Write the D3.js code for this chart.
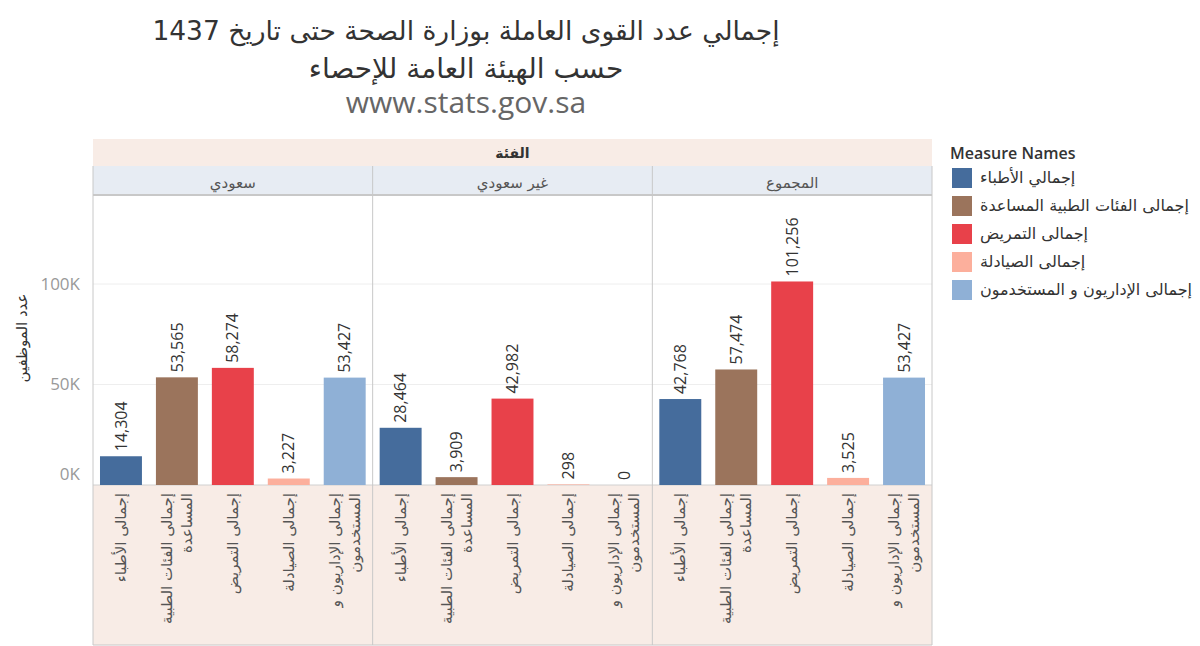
<!DOCTYPE html>
<html>
<head>
<meta charset="utf-8">
<script src="https://cdn.jsdelivr.net/npm/d3@7"></script>
<style>
  body { margin: 0; background: #fff; }
  svg text { font-family: "DejaVu Sans", "Noto Sans", sans-serif; }
</style>
</head>
<body>
<div id="main"></div>
<script>
// data
var titleLines = ["إجمالي عدد القوى العاملة بوزارة الصحة حتى تاريخ 1437", "حسب الهيئة العامة للإحصاء", "www.stats.gov.sa"];
var groups = ["سعودي", "غير سعودي", "المجموع"];
var measures = ["إجمالي الأطباء", "إجمالى الفئات الطبية المساعدة", "إجمالى التمريض", "إجمالى الصيادلة", "إجمالى الإداريون و المستخدمون"];
// axis labels wrap onto two lines
var measureLines = [["إجمالى الأطباء"], ["إجمالى الفئات الطبية", "المساعدة"], ["إجمالى التمريض"], ["إجمالى الصيادلة"], ["إجمالى الإداريون و", "المستخدمون"]];
var saudi = [14304, 53565, 58274, 3227, 53427];
var nonSaudi = [28464, 3909, 42982, 298, 0];
var total = [42768, 57474, 101256, 3525, 53427];
var yTicks = [0, 50000, 100000];
var colors = ["#456c9c", "#9b745c", "#e8414a", "#fcaf9c", "#8fb0d6"];

var values = [saudi, nonSaudi, total];

// dimensions
var svg_width = 1200, svg_height = 646;
var left = 93, right = 932;
var bandTop = 139, headTop = 166, plotTop = 196, plotBottom = 485, bottom = 645;

var svg = d3.select("#main").append("svg")
    .attr("width", svg_width)
    .attr("height", svg_height);

// title
var titleSize = ["26.5px", "28px", "30px"];
svg.selectAll(".title")
    .data(titleLines)
    .enter().append("text")
    .attr("class", "title")
    .attr("x", 466)
    .attr("y", function(d, i) { return [40, 78, 113][i]; })
    .attr("text-anchor", "middle")
    .style("font-size", function(d, i) { return titleSize[i]; })
    .style("font-family", function(d, i) { return i == 2 ? "'Open Sans', sans-serif" : null; })
    .attr("fill", function(d, i) { return i == 2 ? "#666" : "#333"; })
    .text(function(d) { return d; });

/** scales **/
var panelScale = d3.scaleBand().domain(groups).range([left, right]);
var xScale = d3.scaleBand().domain(measures).range([0, panelScale.bandwidth()]).paddingInner(0.25).paddingOuter(0.125);
var yScale = d3.scaleLinear().domain([0, 100000]).range([plotBottom, 284]);
var color = d3.scaleOrdinal().domain(measures).range(colors);

// background bands
svg.append("rect").attr("x", left).attr("y", bandTop).attr("width", right - left).attr("height", headTop - bandTop).attr("fill", "#f8ece6");
svg.append("rect").attr("x", left).attr("y", headTop).attr("width", right - left).attr("height", plotTop - headTop).attr("fill", "#e7ecf3");
svg.append("rect").attr("x", left).attr("y", plotBottom).attr("width", right - left).attr("height", bottom - plotBottom).attr("fill", "#f8ece6");
svg.append("line").attr("x1", left).attr("x2", right).attr("y1", plotTop - 1).attr("y2", plotTop - 1).attr("stroke", "#c8c8c8").attr("stroke-width", 2);
svg.append("line").attr("x1", left).attr("x2", right).attr("y1", plotBottom).attr("y2", plotBottom).attr("stroke", "#d0d0d0");

svg.append("text")
    .attr("x", (left + right) / 2).attr("y", 158)
    .attr("text-anchor", "middle")
    .attr("fill", "#333")
    .style("font-size", "14px").style("font-weight", "bold")
    .text("الفئة");

// gridlines
svg.selectAll(".grid")
    .data(yTicks.slice(1))
    .enter().append("line")
    .attr("class", "grid")
    .attr("x1", left).attr("x2", right)
    .attr("y1", function(d) { return yScale(d); })
    .attr("y2", function(d) { return yScale(d); })
    .attr("stroke", "#eeeeee");

// y axis
var yAxis = svg.append("g")
    .attr("transform", "translate(" + (left - 10) + ",0)")
    .call(d3.axisLeft(yScale).tickValues(yTicks).tickSize(0).tickFormat(function(d) { return (d / 1000) + "K"; }));
yAxis.select(".domain").remove();
yAxis.selectAll("text")
    .attr("fill", "#999")
    .style("font-size", "17px")
    .style("font-family", "'Open Sans', sans-serif")
    .attr("dy", function(d) { return d == 0 ? "-0.3em" : "0.32em"; });

svg.append("text")
    .attr("transform", "translate(27,338) rotate(-90)")
    .attr("text-anchor", "middle")
    .attr("fill", "#333")
    .style("font-size", "15px")
    .text("عدد الموظفين");

/** panels **/
var panels = svg.selectAll(".panel")
    .data(groups)
    .enter().append("g")
    .attr("class", "panel")
    .attr("transform", function(d) { return "translate(" + panelScale(d) + ",0)"; });

panels.append("text")
    .attr("x", panelScale.bandwidth() / 2)
    .attr("y", 188)
    .attr("text-anchor", "middle")
    .attr("fill", "#555")
    .style("font-size", "15px")
    .text(function(d) { return d; });

panels.each(function(g, gi) {
    var p = d3.select(this);
    var rows = measures.map(function(m, i) { return {m: m, v: values[gi][i], lines: measureLines[i]}; });

    p.selectAll(".bar")
        .data(rows)
        .enter().append("rect")
        .attr("class", "bar")
        .attr("x", function(d) { return xScale(d.m); })
        .attr("width", xScale.bandwidth())
        .attr("y", function(d) { return yScale(d.v); })
        .attr("height", function(d) { return plotBottom - yScale(d.v); })
        .attr("fill", function(d) { return color(d.m); });

    p.selectAll(".val")
        .data(rows)
        .enter().append("text")
        .attr("class", "val")
        .attr("transform", function(d) {
            return "translate(" + (xScale(d.m) + xScale.bandwidth() / 2) + "," + (yScale(d.v) - 5) + ") rotate(-90)";
        })
        .attr("dy", "0.35em")
        .attr("fill", "#333")
        .style("font-size", "16px")
        .style("font-family", "'Open Sans', sans-serif")
        .text(function(d) { return d3.format(",")(d.v); });

    var lab = p.selectAll(".xlab")
        .data(rows)
        .enter().append("text")
        .attr("class", "xlab")
        .attr("transform", function(d) {
            var cx = xScale(d.m) + xScale.bandwidth() / 2;
            var shift = d.lines.length == 2 ? -10 : 0;
            return "translate(" + (cx + shift) + "," + (plotBottom + 8) + ") rotate(-90)";
        })
        .attr("text-anchor", "end")
        .attr("fill", "#555")
        .style("font-size", "15px");
    lab.selectAll("tspan")
        .data(function(d) { return d.lines; })
        .enter().append("tspan")
        .attr("x", 0)
        .attr("y", function(d, i) { return 5 + i * 20; })
        .text(function(d) { return d; });
});

// panel borders
svg.selectAll(".divider")
    .data(groups)
    .enter().append("line")
    .attr("class", "divider")
    .attr("x1", function(d) { return panelScale(d); })
    .attr("x2", function(d) { return panelScale(d); })
    .attr("y1", headTop).attr("y2", bottom)
    .attr("stroke", "#c8c8c8");
svg.append("line").attr("x1", right).attr("x2", right).attr("y1", headTop).attr("y2", bottom).attr("stroke", "#c8c8c8");
svg.append("line").attr("x1", left).attr("x2", right).attr("y1", bottom).attr("y2", bottom).attr("stroke", "#c8c8c8");

/** legend **/
var legend = svg.append("g").attr("transform", "translate(950,0)");
legend.append("text")
    .attr("x", 0).attr("y", 159)
    .attr("fill", "#333")
    .style("font-size", "16px")
    .style("font-family", "'Open Sans', sans-serif")
    .style("font-weight", "600")
    .text("Measure Names");
var items = legend.selectAll(".item")
    .data(measures)
    .enter().append("g")
    .attr("class", "item")
    .attr("transform", function(d, i) { return "translate(2," + (168 + i * 28) + ")"; });
items.append("rect").attr("width", 20).attr("height", 20).attr("fill", function(d) { return color(d); });
items.append("text")
    .attr("x", 28).attr("y", 15)
    .attr("fill", "#333")
    .style("font-size", "16px")
    .text(function(d) { return d; });
</script>
</body>
</html>
